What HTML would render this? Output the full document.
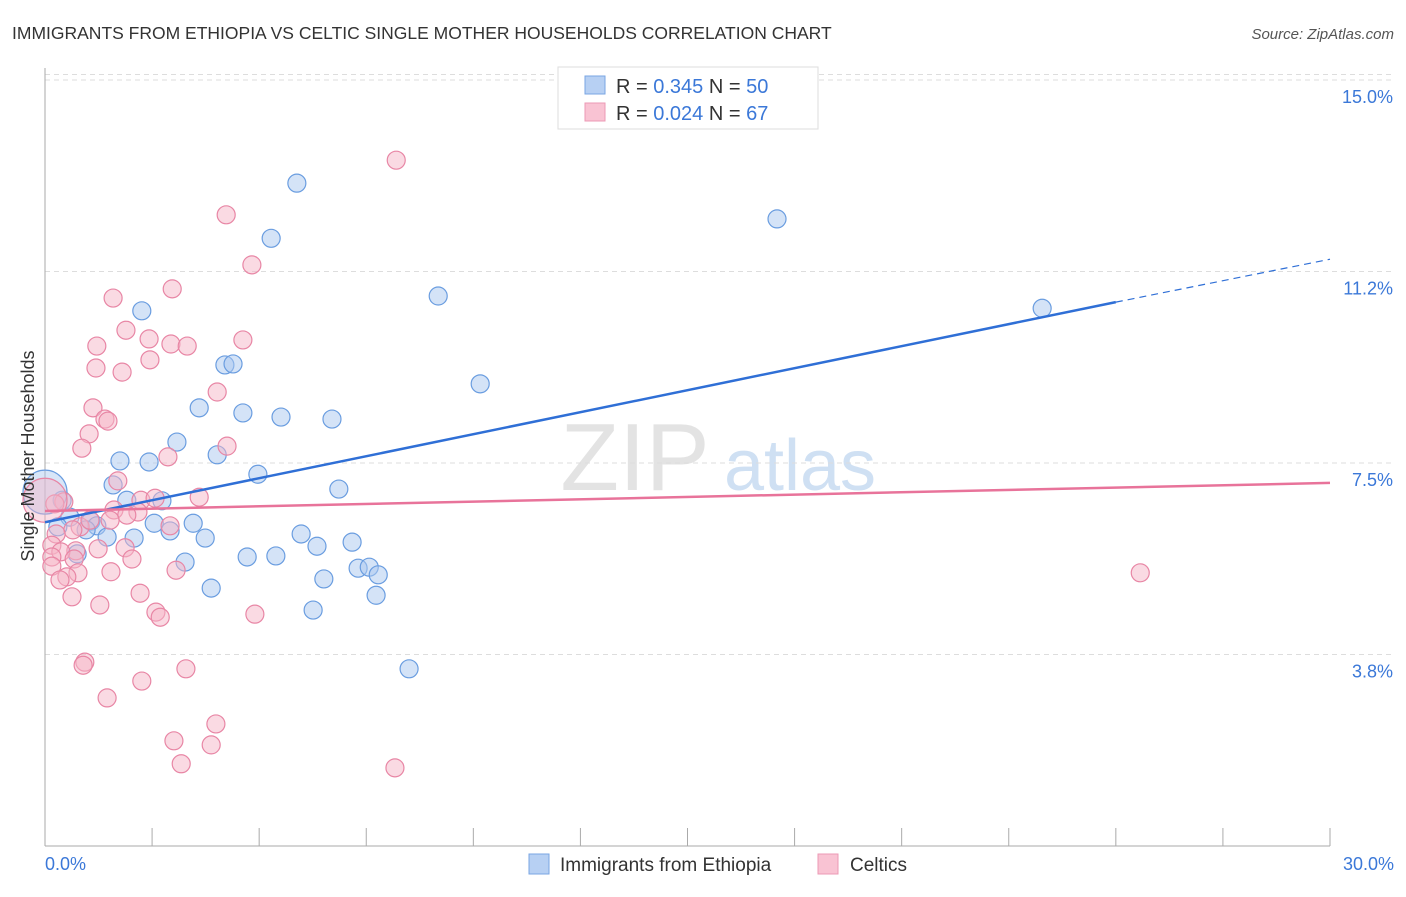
<!DOCTYPE html>
<html><head><meta charset="utf-8"><style>
body{margin:0;background:#fff;font-family:"Liberation Sans",sans-serif}
svg text{font-family:"Liberation Sans",sans-serif}
</style></head><body>
<svg id="chart" width="1406" height="892">
<text x="12" y="39" font-size="17.5" fill="#333">IMMIGRANTS FROM ETHIOPIA VS CELTIC SINGLE MOTHER HOUSEHOLDS CORRELATION CHART</text>
<text x="1394" y="39" font-size="15" fill="#555" font-style="italic" text-anchor="end">Source: ZipAtlas.com</text>
<g><text x="635" y="490" font-size="96" fill="#d8d8d8" text-anchor="middle" font-family="Liberation Serif" opacity="0.7">ZIP</text><text x="800" y="490" font-size="72" fill="#bcd3ee" text-anchor="middle" opacity="0.7">atlas</text></g>
<g id="grid"></g><g id="axes"></g><g id="marks"></g>
<text transform="translate(34,456) rotate(-90)" font-size="18" fill="#333" text-anchor="middle">Single Mother Households</text>
<text x="45" y="870" font-size="18" fill="#3b78d8">0.0%</text>
<text x="1394" y="870" font-size="18" fill="#3b78d8" text-anchor="end">30.0%</text>
<g>
<rect x="558" y="67" width="260" height="62" fill="#fff" stroke="#ddd"/>
<rect x="585" y="76" width="20" height="18" fill="#b7d0f3" stroke="#7aa6e3"/>
<rect x="585" y="103" width="20" height="18" fill="#f9c3d3" stroke="#ec9ab4"/>
<text x="616" y="93" font-size="20" fill="#333">R = <tspan fill="#3b78d8">0.345</tspan>   N = <tspan fill="#3b78d8">50</tspan></text>
<text x="616" y="120" font-size="20" fill="#333">R = <tspan fill="#3b78d8">0.024</tspan>   N = <tspan fill="#3b78d8">67</tspan></text>
</g>
<g>
<rect x="529" y="854" width="20" height="20" fill="#b7d0f3" stroke="#7aa6e3"/>
<text x="560" y="871" font-size="19" fill="#333">Immigrants from Ethiopia</text>
<rect x="818" y="854" width="20" height="20" fill="#f9c3d3" stroke="#ec9ab4"/>
<text x="850" y="871" font-size="19" fill="#333">Celtics</text>
</g>
</svg>
<script>
const yTicks=[3.75,7.5,11.25,15];
const yTickLabels=["3.8%","7.5%","11.2%","15.0%"];
const xTicks=[0,2.5,5,7.5,10,12.5,15,17.5,20,22.5,25,27.5,30];
const blueX=[5.88,5.28,17.09,9.18,23.28,2.26,4.20,4.39,10.16,3.60,4.62,5.51,6.70,3.08,4.02,1.75,2.43,4.97,1.59,6.86,0.40,1.91,2.73,0.58,1.07,1.21,2.55,3.46,0.30,0.96,2.92,1.45,2.08,3.74,5.98,6.35,7.17,0.75,4.72,5.39,3.27,6.51,7.31,7.57,7.78,3.88,7.73,6.26,8.50,0];
const blueY=[12.98,11.90,12.28,10.77,10.53,10.48,9.42,9.44,9.05,8.58,8.48,8.40,8.36,7.91,7.66,7.54,7.52,7.28,7.07,6.99,6.77,6.77,6.76,6.44,6.36,6.27,6.32,6.32,6.25,6.19,6.17,6.05,6.03,6.03,6.11,5.87,5.95,5.72,5.66,5.68,5.56,5.23,5.44,5.46,5.31,5.05,4.91,4.62,3.47,6.93];
const pinkX=[8.20,4.23,4.83,1.59,2.97,1.89,2.43,1.21,2.94,3.32,4.62,1.19,1.80,2.45,4.02,1.12,1.40,1.47,1.03,0.86,4.25,2.87,1.70,3.60,2.24,2.57,0.44,0.23,1.61,2.17,1.91,1.52,0.82,1.05,2.92,0.65,0.26,0.16,1.24,0.72,1.87,0.37,0.16,2.03,0.68,0.16,1.54,3.06,0.77,0.51,0.35,0.63,2.22,1.28,2.59,2.69,4.90,25.57,0.93,0.89,3.29,2.26,1.45,3.99,3.01,3.88,3.18,8.17,0];
const pinkY=[13.43,12.36,11.38,10.73,10.91,10.10,9.93,9.79,9.83,9.79,9.91,9.36,9.28,9.52,8.89,8.58,8.36,8.32,8.07,7.79,7.83,7.62,7.15,6.83,6.77,6.81,6.74,6.70,6.58,6.54,6.48,6.38,6.25,6.38,6.27,6.19,6.11,5.89,5.82,5.78,5.84,5.76,5.66,5.62,5.62,5.48,5.37,5.40,5.35,5.27,5.21,4.88,4.95,4.72,4.58,4.48,4.54,5.35,3.60,3.54,3.47,3.23,2.90,2.39,2.06,1.98,1.61,1.53,6.77];
const blueTrendX=[0,25,30];
const blueTrendY=[6.34,10.65,11.49];
const pinkTrendX=[0,30];
const pinkTrendY=[6.56,7.11];
const X0=45,X1=1330,Y0=846,PPU=191.5/3.75;
const sx=v=>X0+v/30*(X1-X0);
const sy=v=>Y0-v*PPU;
const NS="http://www.w3.org/2000/svg";
function mk(tag,parent,attrs){const e=document.createElementNS(NS,tag);for(const k in attrs)e.setAttribute(k,attrs[k]);parent.appendChild(e);return e;}
const grid=document.getElementById('grid'),axes=document.getElementById('axes'),marks=document.getElementById('marks');
yTicks.forEach((t,i)=>{
 const l=mk('line',grid,{x1:X0,x2:1394,y1:sy(t),y2:sy(t),stroke:'#ddd','stroke-dasharray':'5,4'});
 
 
 const tx=mk('text',grid,{x:1393,y:sy(t)+23,'font-size':18,fill:'#3b78d8','text-anchor':'end'});
 tx.textContent=yTickLabels[i];
 
 
});
const tl=mk('line',grid,{x1:X0,x2:1394,y1:sy(15.05)-3,y2:sy(15.05)-3,stroke:'#ddd','stroke-dasharray':'5,4'});


const ya=mk('line',axes,{x1:X0,x2:X0,y1:68,y2:846,stroke:'#aaa'});


const xa=mk('line',axes,{x1:X0,x2:X1,y1:846,y2:846,stroke:'#aaa'});


xTicks.forEach(t=>{
 const k=mk('line',axes,{x1:sx(t),x2:sx(t),y1:828,y2:846,stroke:'#aaa'});
 
 
});
function pts(xs,ys,fill,stroke,name){
 xs.forEach((x,i)=>{
  const big=(x===0);
  const c=mk('circle',marks,{cx:sx(x),cy:sy(ys[i]),r:big?22:9,fill:fill,'fill-opacity':big?0.45:0.5,stroke:stroke,'stroke-width':1.2});
  
  
 });
}
pts(blueX,blueY,'#a9c8f0','#6a9de0','ethiopia-point');
pts(pinkX,pinkY,'#f6b5c8','#e886a5','celtics-point');
const bt1=mk('line',marks,{x1:sx(blueTrendX[0]),y1:sy(blueTrendY[0]),x2:sx(blueTrendX[1]),y2:sy(blueTrendY[1]),stroke:'#2f6fd6','stroke-width':2.5});


const bt2=mk('line',marks,{x1:sx(blueTrendX[1]),y1:sy(blueTrendY[1]),x2:sx(blueTrendX[2]),y2:sy(blueTrendY[2]),stroke:'#2f6fd6','stroke-width':1.2,'stroke-dasharray':'7,5'});


const pt=mk('line',marks,{x1:sx(pinkTrendX[0]),y1:sy(pinkTrendY[0]),x2:sx(pinkTrendX[1]),y2:sy(pinkTrendY[1]),stroke:'#e8739a','stroke-width':2.5});


</script>
</body></html>
